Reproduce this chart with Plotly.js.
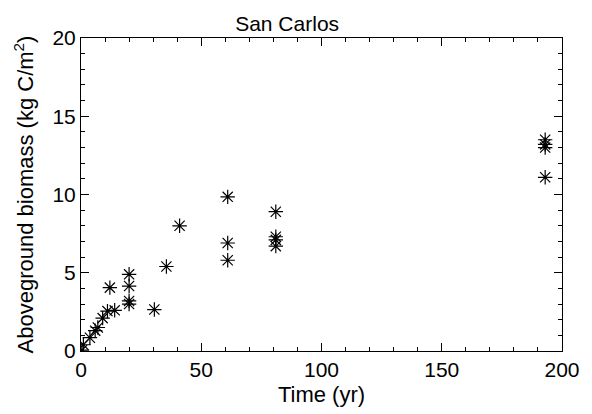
<!DOCTYPE html>
<html>
<head>
<meta charset="utf-8">
<script src="https://cdn.plot.ly/plotly-3.0.1.min.js"></script>
<style>html,body{margin:0;padding:0;background:#fff;}#chart{width:592px;height:414px;}</style>
</head>
<body>
<div id="chart"></div>
<script>
const years = [0.4, 1, 3.7, 5.9, 7, 9, 11, 12, 14, 20, 20, 20, 20, 30.5, 35.5, 41, 61, 61, 61, 81, 81, 81, 81, 193, 193, 193, 193];
const biomass = [0.05, 0.4, 0.85, 1.3, 1.5, 2.1, 2.55, 4.05, 2.6, 4.9, 4.15, 3.2, 3.0, 2.65, 5.4, 8.0, 9.85, 6.9, 5.8, 8.9, 7.3, 7.1, 6.7, 13.5, 13.2, 13.0, 11.1];
const xTicks = [0, 50, 100, 150, 200];
const yTicks = [0, 5, 10, 15, 20];

const font = {family: 'Liberation Sans, Arial, sans-serif', color: '#000'};
const axisCommon = {
  showline: true, linecolor: '#000', linewidth: 1, mirror: 'ticks',
  ticks: 'inside', ticklen: 8, tickcolor: '#000', tickwidth: 1,
  showgrid: false, zeroline: false,
  tickfont: Object.assign({size: 21}, font)
};
Plotly.newPlot('chart', [{
  x: years, y: biomass, type: 'scatter', mode: 'markers',
  marker: {symbol: 'asterisk-open', size: 12, color: '#000', line: {color: '#000', width: 1.2}},
  showlegend: false
}], {
  width: 592, height: 414,
  margin: {l: 81, r: 30, t: 38, b: 63},
  paper_bgcolor: '#fff', plot_bgcolor: '#fff',
  title: {text: 'San Carlos', font: Object.assign({size: 21}, font), x: 0.485, xanchor: 'center', y: 0.96},
  xaxis: Object.assign({}, axisCommon, {
    range: [0, 200], tickvals: xTicks, ticktext: xTicks.map(String),
    minor: {dtick: 10, ticks: 'inside', ticklen: 4, tickcolor: '#000', showgrid: false},
    title: {text: 'Time (yr)', font: Object.assign({size: 22}, font), standoff: 6}
  }),
  yaxis: Object.assign({}, axisCommon, {
    range: [0, 20], tickvals: yTicks, ticktext: yTicks.map(String),
    minor: {dtick: 1, ticks: 'inside', ticklen: 4, tickcolor: '#000', showgrid: false},
    title: {text: 'Aboveground biomass (kg C/m<sup>2</sup>)', font: Object.assign({size: 22}, font), standoff: 12}
  })
}, {displayModeBar: false, staticPlot: true});
</script>
</body>
</html>
